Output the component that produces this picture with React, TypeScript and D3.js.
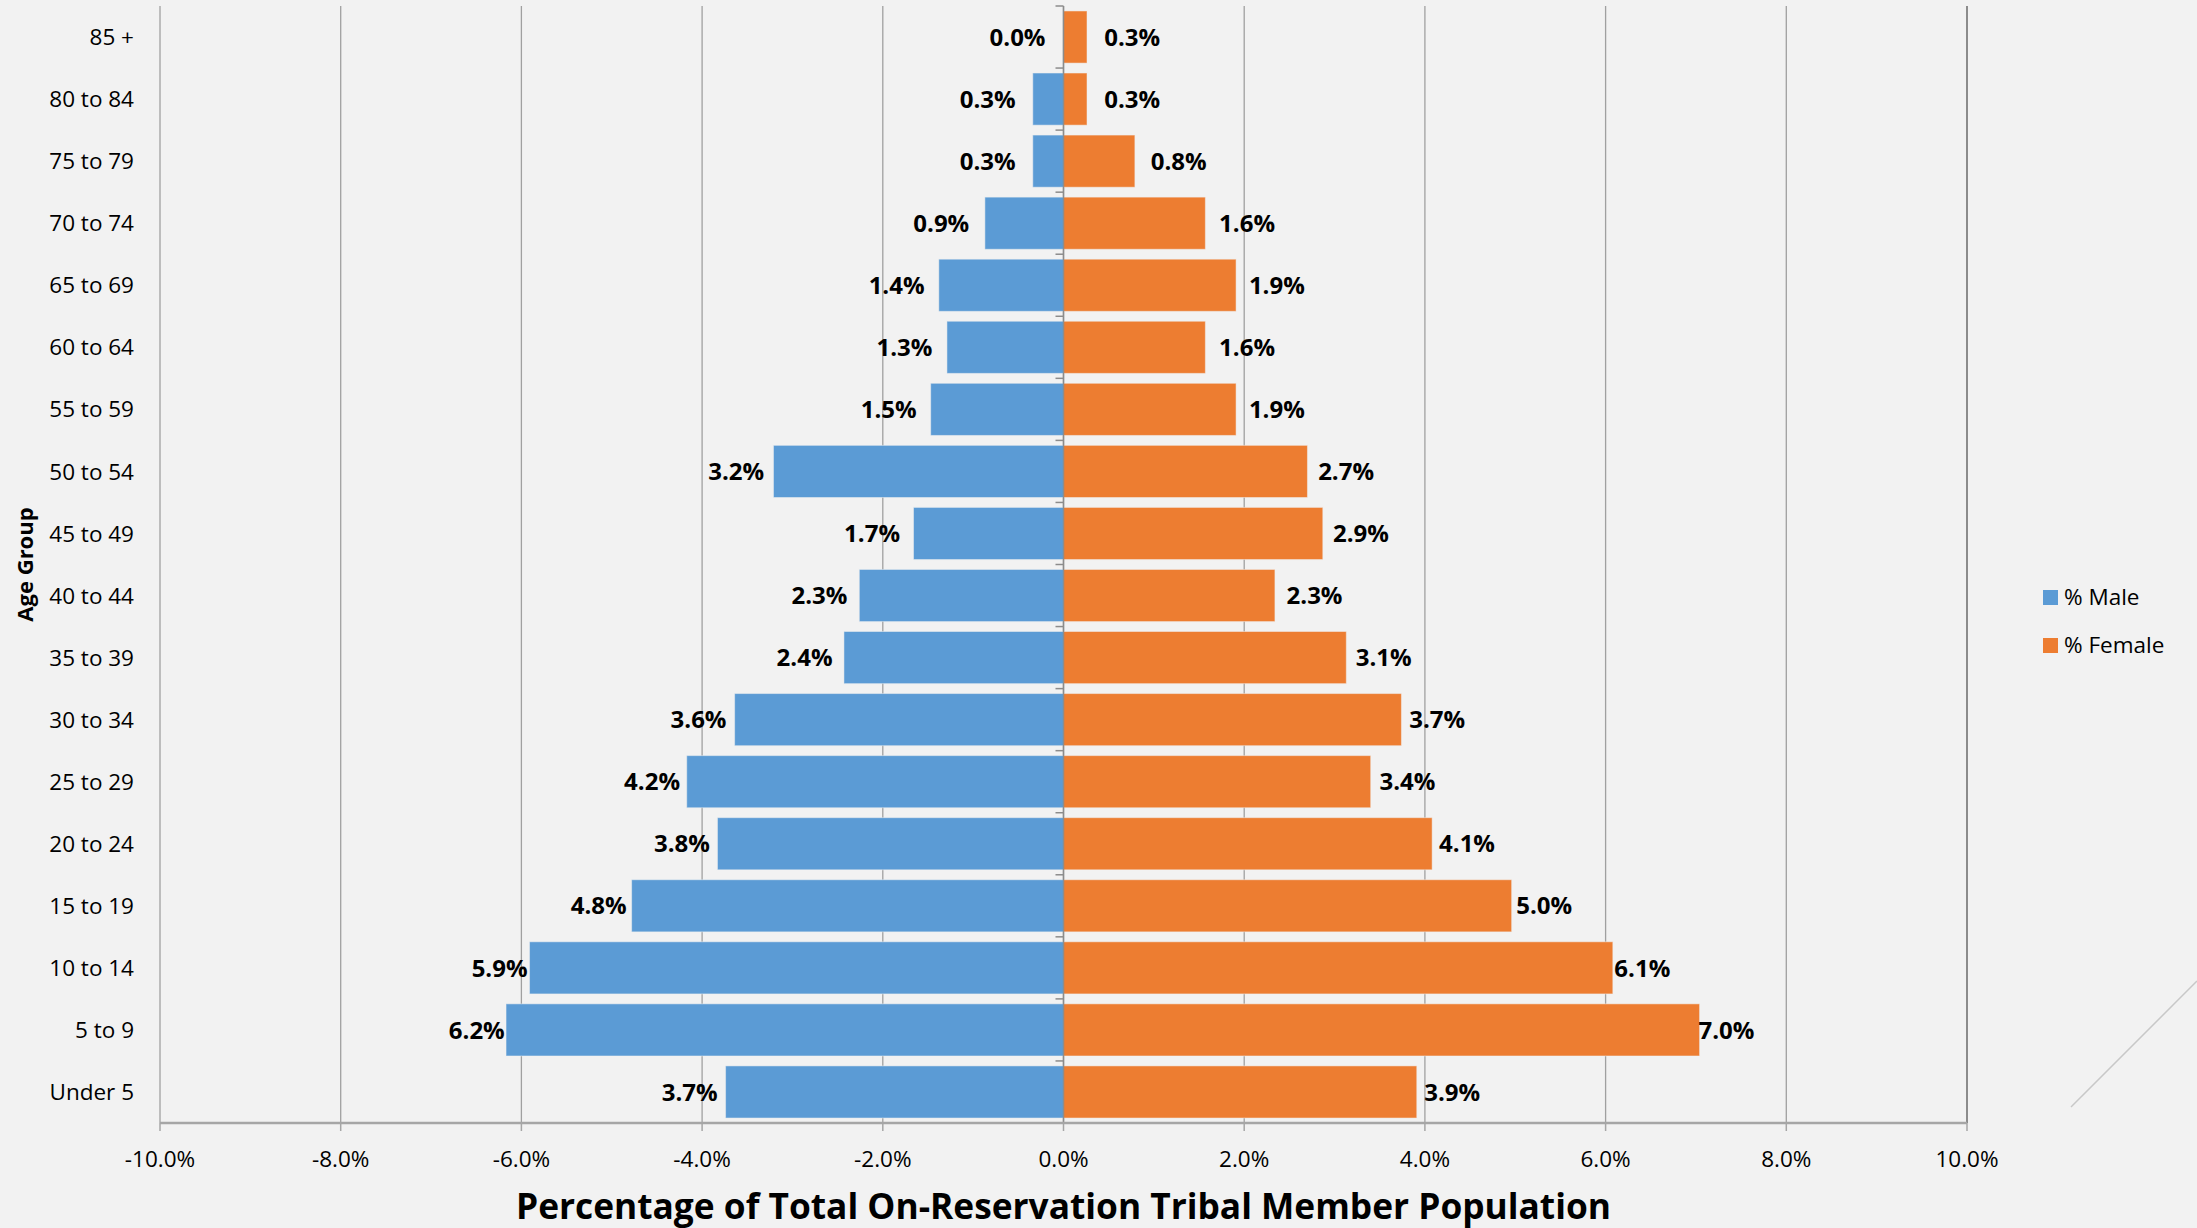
import React from "react";
import * as d3 from "d3";

const categories = [
  "85 +", "80 to 84", "75 to 79", "70 to 74", "65 to 69", "60 to 64", "55 to 59",
  "50 to 54", "45 to 49", "40 to 44", "35 to 39", "30 to 34", "25 to 29",
  "20 to 24", "15 to 19", "10 to 14", "5 to 9", "Under 5",
];
const maleValues = [0.0, 0.34, 0.34, 0.87, 1.38, 1.29, 1.47, 3.21, 1.66, 2.26, 2.43, 3.64, 4.17, 3.83, 4.78, 5.91, 6.17, 3.74];
const femaleValues = [0.26, 0.26, 0.79, 1.57, 1.91, 1.57, 1.91, 2.7, 2.87, 2.34, 3.13, 3.74, 3.4, 4.08, 4.96, 6.08, 7.04, 3.91];
const xTicks = [-10, -8, -6, -4, -2, 0, 2, 4, 6, 8, 10];
const seriesNames = ["% Male", "% Female"];
const colors = ["#5b9bd5", "#ed7d31"];

const W = 2197;
const H = 1228;
const FONT = "'Open Sans', 'Noto Sans', sans-serif";

export default function App() {
  const x = d3.scaleLinear().domain([-10, 10]).range([160, 1967]);
  const y = d3.scaleBand<string>().domain(categories).range([6, 1123]).paddingInner(0.16).paddingOuter(0.08);
  const step = y.step();
  const x0 = x(0);
  const plotTop = 6;
  const plotBottom = 1123;
  const fmt = (v: number) => v.toFixed(1) + "%";
  const gap = (len: number) => 18 - 0.03 * len;

  return (
    <svg
      width={W}
      height={H}
      style={{ position: "absolute", left: 0, top: 0, background: "#f2f2f2", display: "block" }}
    >
      <rect x={0} y={0} width={W} height={H} fill="#f2f2f2" />
      {/* gridlines */}
      {xTicks.map((t) => (
        <line key={"g" + t} x1={x(t)} x2={x(t)} y1={plotTop} y2={plotBottom}
          stroke={t === 10 ? "#8c8c8c" : "#a0a0a0"} strokeWidth={t === 10 ? 2 : 1.3} />
      ))}
      {/* bars */}
      {categories.map((c, i) => (
        <g key={"b" + c}>
          <rect x={x(-maleValues[i])} y={y(c)!} width={x0 - x(-maleValues[i])} height={y.bandwidth()}
            fill={colors[0]} stroke="#f2f2f2" strokeOpacity={0.5} strokeWidth={1} />
          <rect x={x0} y={y(c)!} width={x(femaleValues[i]) - x0} height={y.bandwidth()}
            fill={colors[1]} stroke="#f2f2f2" strokeOpacity={0.5} strokeWidth={1} />
        </g>
      ))}
      {/* category axis at zero */}
      <line x1={x0} x2={x0} y1={plotTop} y2={plotBottom} stroke="#8c8c8c" strokeWidth={1.5} />
      {d3.range(categories.length + 1).map((k) => (
        <line key={"ct" + k} x1={x0 - 8} x2={x0} y1={plotTop + k * step} y2={plotTop + k * step}
          stroke="#8c8c8c" strokeWidth={1.5} />
      ))}
      {/* x axis */}
      <line x1={x(-10)} x2={x(10)} y1={plotBottom} y2={plotBottom} stroke="#a6a6a6" strokeWidth={2.5} />
      {xTicks.map((t) => (
        <g key={"xt" + t}>
          <line x1={x(t)} x2={x(t)} y1={plotBottom} y2={plotBottom + 8} stroke="#a6a6a6" strokeWidth={1.5} />
          <text x={x(t)} y={1167} textAnchor="middle" fontFamily={FONT} fontSize={22.5} fill="#000">
            {t.toFixed(1) + "%"}
          </text>
        </g>
      ))}
      {/* category labels */}
      {categories.map((c) => (
        <text key={"cl" + c} x={134} y={y(c)! + y.bandwidth() / 2} dy="0.36em" textAnchor="end"
          fontFamily={FONT} fontSize={22.5} fill="#000">
          {c}
        </text>
      ))}
      {/* data labels */}
      {categories.map((c, i) => {
        const mLen = x0 - x(-maleValues[i]);
        const fLen = x(femaleValues[i]) - x0;
        const cy = y(c)! + y.bandwidth() / 2;
        return (
          <g key={"dl" + c}>
            <text x={x(-maleValues[i]) - gap(mLen)} y={cy} dy="0.36em" textAnchor="end"
              fontFamily={FONT} fontWeight="bold" fontSize={24} fill="#000">
              {fmt(maleValues[i])}
            </text>
            <text x={x(femaleValues[i]) + gap(fLen)} y={cy} dy="0.36em" textAnchor="start"
              fontFamily={FONT} fontWeight="bold" fontSize={24} fill="#000">
              {fmt(femaleValues[i])}
            </text>
          </g>
        );
      })}
      {/* axis titles */}
      <text x={x0} y={1219} textAnchor="middle" fontFamily={FONT} fontWeight="bold" fontSize={35}
        textLength={1095} lengthAdjust="spacingAndGlyphs" fill="#000">
        Percentage of Total On-Reservation Tribal Member Population
      </text>
      <text transform={`translate(33, ${(plotTop + plotBottom) / 2}) rotate(-90)`} textAnchor="middle"
        fontFamily={FONT} fontWeight="bold" fontSize={22} fill="#000">
        Age Group
      </text>
      {/* legend */}
      {seriesNames.map((s, i) => (
        <g key={"lg" + s} transform={`translate(2043, ${590 + i * 48})`}>
          <rect x={0} y={0} width={15} height={15} fill={colors[i]} />
          <text x={21} y={15} fontFamily={FONT} fontSize={22.5} fill="#000">{s}</text>
        </g>
      ))}
      {/* decorative stray line */}
      <line x1={2071} y1={1107} x2={2197} y2={981} stroke="#c8c8c8" strokeWidth={1.5} />
    </svg>
  );
}
